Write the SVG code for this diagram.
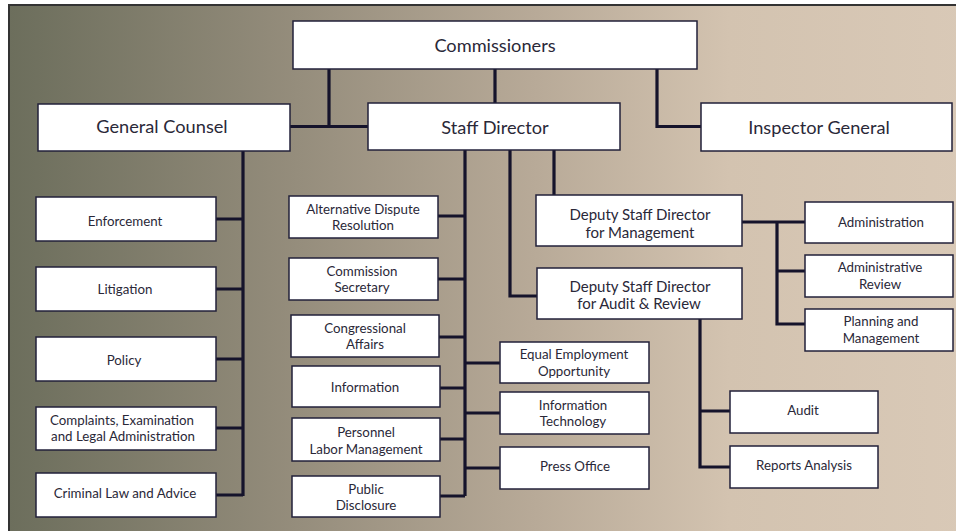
<svg xmlns="http://www.w3.org/2000/svg" width="956" height="531" viewBox="0 0 956 531">
<defs>
<linearGradient id="bg" x1="0" y1="0" x2="1" y2="0">
<stop offset="0" stop-color="#6c6e5c"/>
<stop offset="0.3" stop-color="#958d7c"/>
<stop offset="0.55" stop-color="#b8aa98"/>
<stop offset="0.75" stop-color="#d3c3b0"/>
<stop offset="1" stop-color="#d9c9b7"/>
</linearGradient>
</defs>
<style>
.b{fill:#fff;stroke:#22203a;stroke-width:1.5}
.c{fill:none;stroke:#15132b;stroke-width:3.2}
text{font-family:Lato,"Open Sans","Liberation Sans",sans-serif;fill:#2a2838;text-anchor:middle}
.l{font-size:18.2px}
.m{font-size:15px}
.s{font-size:13.3px}
</style>
<rect x="0" y="0" width="956" height="531" fill="#fff"/>
<rect x="9" y="5" width="960" height="540" fill="url(#bg)" stroke="#333" stroke-width="2"/>
<g id="connectors">
<path class="c" d="M329 69V126.5M290 126.5H368M495 69V103M657 69V126.5H701"/>
<path class="c" d="M243 151V496M216 219H243M216 289H243M216 359H243M216 428H243M216 495H243"/>
<path class="c" d="M465 150V496M438 216H465M438 279H465M439 337H465M440 388H465M440 439H465M440 496H465M465 363H500M465 413H500M465 468H500"/>
<path class="c" d="M554 150V195M510 150V296H537"/>
<path class="c" d="M742 222H805M777 222V324H805M777 271H805"/>
<path class="c" d="M700 319V467H730M700 411H730"/>
</g>
<g id="commissioners"><rect class="b" x="293" y="21" width="404" height="48"/><text class="l" x="495" y="52">Commissioners</text></g>
<g id="general-counsel"><rect class="b" x="38" y="104" width="252" height="47"/><text class="l" x="162" y="133">General Counsel</text></g>
<g id="staff-director"><rect class="b" x="368" y="103" width="252" height="47"/><text class="l" x="495" y="134">Staff Director</text></g>
<g id="inspector-general"><rect class="b" x="701" y="103" width="251" height="48"/><text class="l" x="819" y="134">Inspector General</text></g>
<g id="enforcement"><rect class="b" x="36" y="197" width="180" height="44"/><text class="s" x="125" y="226">Enforcement</text></g>
<g id="litigation"><rect class="b" x="36" y="267" width="180" height="44"/><text class="s" x="125" y="294">Litigation</text></g>
<g id="policy"><rect class="b" x="36" y="337" width="180" height="44"/><text class="s" x="124" y="365">Policy</text></g>
<g id="complaints"><rect class="b" x="36" y="407" width="180" height="43"/><text class="s" x="122" y="425">Complaints, Examination</text><text class="s" x="123" y="441">and Legal Administration</text></g>
<g id="criminal-law"><rect class="b" x="36" y="473" width="180" height="44"/><text class="s" x="125" y="498">Criminal Law and Advice</text></g>
<g id="adr"><rect class="b" x="289" y="196" width="149" height="42"/><text class="s" x="363" y="214">Alternative Dispute</text><text class="s" x="363" y="230">Resolution</text></g>
<g id="commission-secretary"><rect class="b" x="289" y="258" width="149" height="42"/><text class="s" x="362" y="276">Commission</text><text class="s" x="362" y="292">Secretary</text></g>
<g id="congressional-affairs"><rect class="b" x="291" y="315" width="148" height="42"/><text class="s" x="365" y="333">Congressional</text><text class="s" x="365" y="349">Affairs</text></g>
<g id="information"><rect class="b" x="292" y="366" width="148" height="41"/><text class="s" x="365" y="392">Information</text></g>
<g id="personnel"><rect class="b" x="292" y="418" width="148" height="43"/><text class="s" x="366" y="437">Personnel</text><text class="s" x="366" y="454">Labor Management</text></g>
<g id="public-disclosure"><rect class="b" x="292" y="476" width="148" height="41"/><text class="s" x="366" y="494">Public</text><text class="s" x="366" y="510">Disclosure</text></g>
<g id="eeo"><rect class="b" x="500" y="342" width="149" height="41"/><text class="s" x="574" y="359">Equal Employment</text><text class="s" x="574" y="376">Opportunity</text></g>
<g id="it"><rect class="b" x="500" y="392" width="149" height="42"/><text class="s" x="573" y="410">Information</text><text class="s" x="573" y="426">Technology</text></g>
<g id="press-office"><rect class="b" x="500" y="447" width="149" height="42"/><text class="s" x="575" y="471">Press Office</text></g>
<g id="dsd-management"><rect class="b" x="536" y="195" width="206" height="51"/><text class="m" x="640" y="220">Deputy Staff Director</text><text class="m" x="640" y="238">for Management</text></g>
<g id="dsd-audit"><rect class="b" x="537" y="268" width="205" height="51"/><text class="m" x="640" y="292">Deputy Staff Director</text><text class="m" x="639" y="309">for Audit &amp; Review</text></g>
<g id="administration"><rect class="b" x="805" y="202" width="148" height="41"/><text class="s" x="881" y="227">Administration</text></g>
<g id="administrative-review"><rect class="b" x="805" y="255" width="148" height="42"/><text class="s" x="880" y="272">Administrative</text><text class="s" x="880" y="289">Review</text></g>
<g id="planning"><rect class="b" x="805" y="309" width="148" height="42"/><text class="s" x="881" y="326">Planning and</text><text class="s" x="881" y="343">Management</text></g>
<g id="audit"><rect class="b" x="730" y="391" width="148" height="42"/><text class="s" x="803" y="415">Audit</text></g>
<g id="reports-analysis"><rect class="b" x="730" y="446" width="148" height="42"/><text class="s" x="804" y="470">Reports Analysis</text></g>
</svg>
